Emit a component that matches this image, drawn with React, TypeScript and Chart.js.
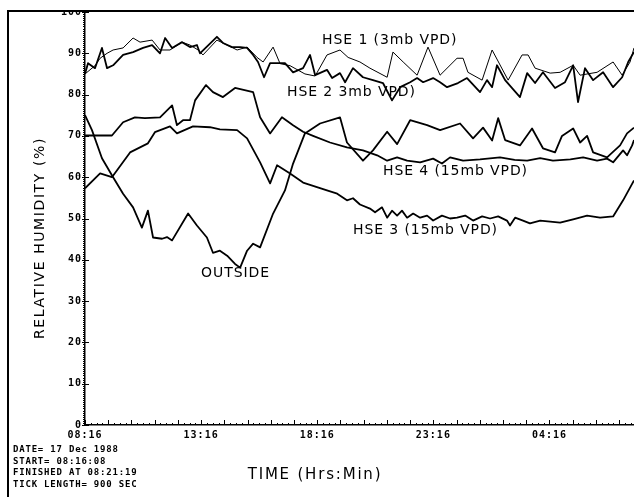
import React, { useEffect, useRef } from "react";
import { Chart, registerables } from "chart.js";

Chart.register(...registerables);

// ---- data (hours after 08:16, relative humidity %) ----
const hse1Hours = [0, 0.43, 0.65, 0.95, 1.21, 1.64, 2.07, 2.37, 2.89, 3.23, 3.66, 4.18, 4.52, 4.87, 5.08, 5.68, 6.12, 6.55, 6.98, 7.41, 7.67, 8.1, 8.4, 8.83, 9.47, 9.91, 10.42, 10.98, 11.33, 11.84, 12.27, 13.01, 13.26, 13.7, 14.3, 14.77, 15.29, 16.02, 16.28, 16.49, 17.1, 17.53, 18.22, 18.82, 19.08, 19.38, 20.03, 20.46, 21.02, 21.32, 22.05, 22.74, 23.13, 23.47, 23.64];
const hse1RH = [85, 87, 88.8, 90, 90.8, 91.3, 93.7, 92.7, 93.2, 90.8, 90.8, 92.7, 92, 90.8, 89.6, 93.2, 92, 90.8, 91.5, 89, 87.9, 91.5, 87.5, 87, 85, 84.5, 89.6, 90.8, 89, 87.9, 86.4, 84.2, 90.3, 87.9, 84.7, 91.5, 84.7, 88.8, 88.8, 85.4, 83.5, 90.8, 83.5, 89.6, 89.6, 86.4, 85.2, 85.4, 87.1, 84.7, 85.4, 87.9, 84.7, 87.9, 91.3];

const hse2Hours = [0, 0.13, 0.43, 0.73, 0.95, 1.21, 1.64, 2.07, 2.5, 2.89, 3.23, 3.45, 3.75, 4.18, 4.52, 4.82, 4.95, 5.68, 5.94, 6.33, 6.68, 6.98, 7.24, 7.45, 7.71, 7.97, 8.61, 8.96, 9.39, 9.69, 9.91, 10.42, 10.64, 10.98, 11.2, 11.54, 11.97, 12.4, 12.83, 13.22, 13.57, 14.0, 14.3, 14.56, 14.99, 15.29, 15.59, 16.06, 16.45, 17.01, 17.31, 17.53, 17.74, 18.09, 18.73, 19.04, 19.38, 19.72, 20.24, 20.67, 21.02, 21.23, 21.53, 21.88, 22.31, 22.74, 23.13, 23.39, 23.64];
const hse2RH = [85, 87.6, 86.4, 91.3, 86.4, 87.1, 89.6, 90.3, 91.3, 92, 90, 93.7, 91.3, 92.7, 91.5, 92, 90, 94, 92.5, 91.5, 91.5, 91.3, 89.6, 87.9, 84.2, 87.6, 87.6, 85.4, 86.4, 89.6, 84.7, 86, 84, 85.2, 83, 86.4, 84.2, 83.5, 82.8, 78.6, 81.8, 83, 84, 83, 84, 83, 81.8, 82.8, 84, 80.6, 83.5, 81.8, 87.1, 83.5, 79.4, 85.2, 82.8, 85.4, 81.6, 83, 87.1, 78.2, 86.4, 83.5, 85.4, 81.8, 84.2, 87.9, 90.3];

const hse3Hours = [0, 0.65, 1.16, 1.94, 2.71, 3.01, 3.66, 3.96, 4.65, 5.38, 5.81, 6.55, 6.98, 7.54, 7.97, 8.27, 8.83, 9.39, 10.42, 10.86, 11.28, 11.54, 11.84, 12.27, 12.49, 12.79, 13.01, 13.22, 13.44, 13.65, 13.87, 14.13, 14.43, 14.73, 14.99, 15.37, 15.72, 16.02, 16.37, 16.71, 17.1, 17.44, 17.79, 18.17, 18.3, 18.52, 18.86, 19.16, 19.6, 20.46, 21.02, 21.62, 22.18, 22.74, 23.17, 23.64];
const hse3RH = [57.3, 60.9, 60, 66, 68.2, 70.9, 72.3, 70.6, 72.3, 72.1, 71.6, 71.4, 69.4, 63.6, 58.5, 62.9, 60.9, 58.7, 56.8, 56, 54.4, 54.9, 53.4, 52.4, 51.5, 52.7, 50.2, 51.9, 50.7, 51.9, 50.2, 51.2, 50.2, 50.7, 49.5, 50.7, 50, 50.2, 50.7, 49.5, 50.5, 50, 50.5, 49.5, 48.3, 50.2, 49.5, 48.8, 49.5, 49, 49.8, 50.7, 50.2, 50.5, 54.4, 59.2];

const hse4Hours = [0, 1.16, 1.64, 2.15, 2.58, 3.23, 3.75, 3.96, 4.22, 4.52, 4.74, 5.21, 5.51, 5.94, 6.46, 7.24, 7.54, 7.97, 8.48, 8.96, 9.39, 9.82, 10.55, 11.28, 11.97, 12.58, 13.01, 13.44, 13.87, 14.43, 14.99, 15.37, 15.72, 16.28, 17.01, 17.87, 18.5, 19.04, 19.6, 20.15, 20.9, 21.45, 22.05, 22.48, 22.74, 23.17, 23.34, 23.56, 23.64];
const hse4RH = [70.1, 70.1, 73.3, 74.5, 74.3, 74.5, 77.4, 72.6, 73.8, 73.8, 78.6, 82.3, 80.6, 79.4, 81.6, 80.6, 74.5, 70.6, 74.5, 72.6, 71, 70, 68.4, 67.2, 66.5, 65.3, 64, 64.8, 64, 63.6, 64.5, 63.3, 64.8, 64, 64.3, 64.8, 64.2, 64, 64.6, 64, 64.3, 64.8, 64, 64.5, 63.6, 66.5, 65.3, 67.7, 69];

const outsideHours = [0, 0.3, 0.73, 1.21, 1.64, 2.07, 2.45, 2.71, 2.93, 3.32, 3.53, 3.75, 4.44, 4.82, 5.25, 5.51, 5.81, 6.12, 6.46, 6.68, 6.98, 7.24, 7.54, 8.1, 8.61, 8.96, 9.47, 10.12, 10.98, 11.28, 11.97, 12.4, 13.01, 13.44, 14.0, 14.73, 15.29, 16.15, 16.71, 17.14, 17.53, 17.79, 18.09, 18.73, 19.25, 19.72, 20.24, 20.54, 21.02, 21.32, 21.62, 21.88, 22.48, 23.04, 23.34, 23.64];
const outsideRH = [75, 71.4, 64.6, 60, 56, 52.7, 47.8, 51.9, 45.4, 45.1, 45.5, 44.7, 51.2, 48.3, 45.4, 41.7, 42.2, 41, 39, 38.1, 42.2, 43.9, 43, 51.2, 56.8, 63.3, 70.6, 73, 74.5, 68.4, 64, 66.5, 71, 68, 73.8, 72.6, 71.4, 73, 69.4, 72, 68.9, 74.3, 69, 67.7, 71.8, 67, 66, 70, 71.8, 68.4, 70, 66, 64.8, 67.7, 70.6, 72];

const xTickHours = [0, 5, 10, 15, 20];
const xTickLabels = ["08:16", "13:16", "18:16", "23:16", "04:16"];
const X_MAX = 23.64;

const seriesLabels = [
  { text: "HSE 1 (3mb VPD)", h: 10.21, v: 93.2 },
  { text: "HSE 2 3mb VPD)", h: 8.7, v: 80.6 },
  { text: "HSE 4 (15mb VPD)", h: 12.83, v: 61.3 },
  { text: "HSE 3 (15mb VPD)", h: 11.54, v: 47.2 },
  { text: "OUTSIDE", h: 5.0, v: 36.6 },
];

const infoLines = ["DATE= 17 Dec 1988", "START= 08:16:08", "FINISHED AT 08:21:19", "TICK LENGTH= 900 SEC"];
const yTitle = "RELATIVE HUMIDITY (%)";
const xTitle = "TIME (Hrs:Min)";

function pts(h: number[], v: number[]) {
  return h.map((x, i) => ({ x, y: v[i] }));
}

const decor = {
  id: "decor",
  beforeDraw(chart: any) {
    chart.ctx.letterSpacing = "1px";
  },
  afterDraw(chart: any) {
    const { ctx, chartArea, scales } = chart;
    const xs = scales.x;
    const ys = scales.y;
    ctx.save();
    ctx.letterSpacing = "0px";
    ctx.strokeStyle = "#000";
    ctx.lineWidth = 1;
    // x ticks every 15 min (900 s), taller each hour
    for (let i = 0; i * 0.25 <= X_MAX + 1e-6; i++) {
      const px = Math.round(xs.getPixelForValue(i * 0.25)) + 0.5;
      const len = i % 4 === 0 ? 5 : 2;
      ctx.beginPath();
      ctx.moveTo(px, chartArea.bottom);
      ctx.lineTo(px, chartArea.bottom - len);
      ctx.stroke();
    }
    // y ticks every 0.5 %, major every 10 %
    for (let k = 0; k <= 200; k++) {
      const v = k / 2;
      const py = Math.round(ys.getPixelForValue(v)) + 0.5;
      const l = chartArea.left;
      ctx.beginPath();
      if (k % 20 === 0) {
        ctx.moveTo(l - 3, py);
        ctx.lineTo(l + 4, py);
      } else {
        ctx.moveTo(l - 2, py);
        ctx.lineTo(l, py);
      }
      ctx.stroke();
    }
    ctx.fillStyle = "#000";
    // series labels
    ctx.font = '14px "DejaVu Sans"';
    ctx.letterSpacing = "0.9px";
    ctx.textAlign = "left";
    ctx.textBaseline = "middle";
    for (const s of seriesLabels) {
      ctx.fillText(s.text, xs.getPixelForValue(s.h), ys.getPixelForValue(s.v));
    }
    // x title
    ctx.font = '15px "DejaVu Sans"';
    ctx.letterSpacing = "1.8px";
    ctx.textAlign = "center";
    ctx.fillText(xTitle, 315, 475);
    // y title
    ctx.save();
    ctx.translate(40, 238);
    ctx.rotate(-Math.PI / 2);
    ctx.font = '14px "DejaVu Sans"';
    ctx.letterSpacing = "1.6px";
    ctx.fillText(yTitle, 0, 0);
    ctx.restore();
    // info block
    ctx.font = 'bold 9px "DejaVu Sans Mono"';
    ctx.letterSpacing = "0.8px";
    ctx.textAlign = "left";
    infoLines.forEach((t, i) => ctx.fillText(t, 13, 449.5 + i * 11.8));
    // frame
    ctx.fillStyle = "#fff";
    ctx.fillRect(0, 0, chart.width, 10);
    ctx.fillStyle = "#000";
    ctx.fillRect(7, 10, 2, chart.height - 10);
    ctx.fillRect(7, 10, chart.width - 7, 2);
    ctx.restore();
    ctx.letterSpacing = "0px";
  },
};

export default function App() {
  const ref = useRef<HTMLCanvasElement>(null);
  useEffect(() => {
    const mk = (label: string, h: number[], v: number[], w: number) => ({
      label,
      data: pts(h, v),
      borderColor: "#000",
      backgroundColor: "#000",
      borderWidth: w,
      pointRadius: 0,
      tension: 0,
      fill: false,
      borderJoinStyle: "round" as const,
    });
    const chart = new Chart(ref.current!, {
      type: "line",
      data: {
        datasets: [
          mk("HSE 1 (3mb VPD)", hse1Hours, hse1RH, 1),
          mk("HSE 2 3mb VPD", hse2Hours, hse2RH, 1.8),
          mk("HSE 3 (15mb VPD)", hse3Hours, hse3RH, 1.8),
          mk("HSE 4 (15mb VPD)", hse4Hours, hse4RH, 1.8),
          mk("OUTSIDE", outsideHours, outsideRH, 1.8),
        ],
      },
      options: {
        animation: false,
        responsive: false,
        devicePixelRatio: 1,
        layout: { padding: { top: 12, left: 0, right: 0, bottom: 0 } },
        plugins: { legend: { display: false }, tooltip: { enabled: false } },
        scales: {
          x: {
            type: "linear",
            min: 0,
            max: X_MAX,
            afterBuildTicks: (s: any) => {
              s.ticks = xTickHours.map((value) => ({ value }));
            },
            afterFit: (s: any) => {
              s.height = 72;
            },
            ticks: {
              autoSkip: false,
              maxRotation: 0,
              padding: 4,
              color: "#000",
              font: { family: "DejaVu Sans Mono", size: 10, weight: "bold" },
              callback: (v: any) => {
                const i = xTickHours.indexOf(Number(v));
                return i >= 0 ? xTickLabels[i] : "";
              },
            },
            grid: { display: true, drawOnChartArea: false, drawTicks: false },
            border: { display: true, color: "#000", width: 1.5 },
          },
          y: {
            type: "linear",
            min: 0,
            max: 100,
            afterFit: (s: any) => {
              s.width = 85;
            },
            ticks: {
              stepSize: 10,
              padding: 3,
              color: "#000",
              font: { family: "DejaVu Sans Mono", size: 10, weight: "bold" },
            },
            grid: { display: true, drawOnChartArea: false, drawTicks: false },
            border: { display: true, color: "#000", width: 1.5 },
          },
        },
      },
      plugins: [decor],
    } as any);
    return () => chart.destroy();
  }, []);
  return (
    <div style={{ position: "fixed", left: 0, top: 0, width: 634, height: 497, background: "#fff" }}>
      <canvas ref={ref} width={634} height={497} style={{ display: "block", width: 634, height: 497 }} />
    </div>
  );
}
